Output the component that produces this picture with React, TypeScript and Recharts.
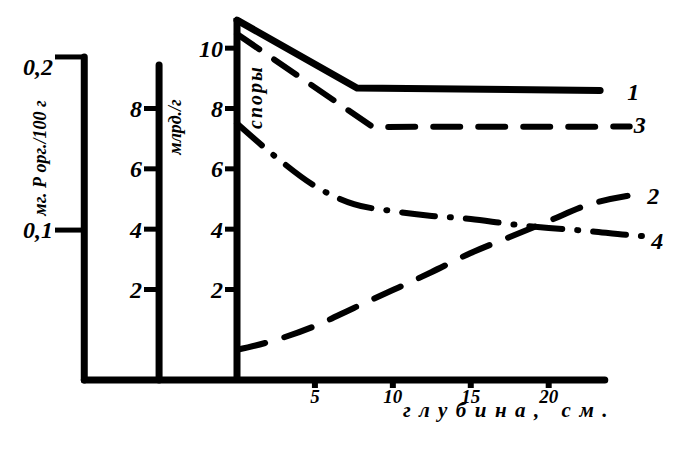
import React from "react"
import { LineChart, Line, XAxis, YAxis, ReferenceLine } from "recharts"

const INK = "#000"
const HAND = "'Liberation Serif', 'DejaVu Serif', serif"

// depth axis, cm
const DEPTH_TICKS = [5, 10, 15, 20]
// three left scales: spores, billions per g, mg P org. per 100 g
const SPORE_TICKS = [2, 4, 6, 8, 10]
const BILLION_TICKS = [2, 4, 6, 8]
const P_TICKS = [0.1, 0.2]

// curve 1 (solid)
const DEPTH_1 = [0, 7.7, 23.3]
const CURVE_1 = [10.93, 8.68, 8.6]

// curve 3 (long dashes)
const DEPTH_3 = [0, 8.7, 25.2]
const CURVE_3 = [10.47, 7.39, 7.4]

// curves 2 (dashes) and 4 (dash-dot)
const DEPTHS = [0, 2.5, 5, 7.5, 10, 12.5, 15, 17.5, 20, 22.5, 25, 26]
const CURVE_2 = [0, 0.33, 0.79, 1.39, 1.98, 2.58, 3.21, 3.74, 4.27, 4.8, 5.1, 5.17]
const CURVE_4 = [7.5, 6.39, 5.43, 4.83, 4.6, 4.44, 4.34, 4.17, 4.04, 3.94, 3.81, 3.77]

const rows = (depths: number[], values: number[]) => depths.map((d, i) => ({ d, v: values[i] }))

const handFont = { fontFamily: HAND, fontStyle: "italic", fontWeight: "bold", fill: INK } as const

function SideTitle(props: any) {
  const vb = props.viewBox || { x: 0, y: 0, width: 0, height: 0 }
  const x = vb.x + props.dx
  const y = vb.y + props.dy
  return (
    <text
      x={x}
      y={y}
      transform={`rotate(-90 ${x} ${y})`}
      textAnchor="middle"
      dominantBaseline="central"
      fontSize={props.size}
      letterSpacing={props.spacing || 0}
      {...handFont}
    >
      {props.text}
    </text>
  )
}

function DepthTitle(props: any) {
  const vb = props.viewBox || { x: 0, y: 0 }
  return (
    <text x={vb.x + 166} y={vb.y + 37} fontSize={21} letterSpacing={8.5} {...handFont}>
      глубина, см.
    </text>
  )
}

// the 0,2 figure sits a little under its tick in the drawing
function PTick(p: any) {
  const v = p.payload.value
  return (
    <text x={p.x} y={p.y + (v > 0.15 ? 10 : 0)} textAnchor="end" dominantBaseline="central" fontSize={24} {...handFont}>
      {v.toFixed(1).replace(".", ",")}
    </text>
  )
}

// curve number written after the last point
function endMark(text: string, last: number, dx: number, dy: number) {
  return (p: any) =>
    p.index === last ? (
      <text key={`end-${text}`} x={p.cx + dx} y={p.cy + dy} fontSize={24} dominantBaseline="central" {...handFont}>
        {text}
      </text>
    ) : (
      <g key={`pt-${text}-${p.index}`} />
    )
}

const frame = { stroke: INK, strokeWidth: 7, strokeLinecap: "round" as const }

export default function App() {
  return (
    <div style={{ position: "absolute", left: 0, top: 0, background: "#fff" }}>
      <LineChart width={694} height={453} margin={{ top: 18, right: 44, bottom: 43, left: 8 }}>
        <XAxis
          dataKey="d"
          type="number"
          domain={[0, 26.5]}
          ticks={DEPTH_TICKS}
          axisLine={false}
          tickLine={{ stroke: INK, strokeWidth: 6 }}
          tickSize={8}
          tick={{ fontSize: 19, ...handFont }}
          height={30}
          label={<DepthTitle />}
        />
        {/* ids sort innermost-first: a = spores, b = billions/g, c = mg P */}
        <YAxis
          yAxisId="a"
          type="number"
          domain={[-1, 11]}
          ticks={SPORE_TICKS}
          width={77}
          axisLine={{ stroke: INK, strokeWidth: 7 }}
          tickLine={{ stroke: INK, strokeWidth: 5 }}
          tickSize={12}
          tick={{ fontSize: 24, ...handFont }}
          label={<SideTitle text="споры" dx={95} dy={79} size={20} spacing={2} />}
        />
        <YAxis
          yAxisId="b"
          type="number"
          domain={[-1, 11]}
          allowDataOverflow
          ticks={BILLION_TICKS}
          width={77}
          axisLine={false}
          tickLine={{ stroke: INK, strokeWidth: 5 }}
          tickSize={16}
          tick={{ fontSize: 24, ...handFont }}
          label={<SideTitle text="млрд./г" dx={92} dy={109} size={18} />}
        />
        <YAxis
          yAxisId="c"
          type="number"
          domain={[0.0134, 0.2225]}
          allowDataOverflow
          ticks={P_TICKS}
          width={75}
          axisLine={false}
          tickLine={{ stroke: INK, strokeWidth: 5 }}
          tickSize={28}
          tick={<PTick />}
          label={<SideTitle text="мг. Р орг./100 г" dx={32} dy={140} size={18} />}
        />

        {/* hand-drawn axis frame */}
        <ReferenceLine yAxisId="a" ifOverflow="visible" segment={[{ x: -9.8, y: -1 }, { x: 23.6, y: -1 }]} {...frame} />
        <ReferenceLine yAxisId="a" ifOverflow="visible" segment={[{ x: -9.8, y: -1 }, { x: -9.8, y: 9.71 }]} {...frame} />
        <ReferenceLine yAxisId="a" ifOverflow="visible" segment={[{ x: -5, y: -1 }, { x: -5, y: 9.44 }]} {...frame} />

        <Line
          yAxisId="a"
          data={rows(DEPTH_1, CURVE_1)}
          dataKey="v"
          type="linear"
          stroke={INK}
          strokeWidth={7}
          strokeLinecap="round"
          dot={endMark("1", DEPTH_1.length - 1, 27, 2)}
          activeDot={false}
          isAnimationActive={false}
        />
        <Line
          yAxisId="a"
          data={rows(DEPTH_3, CURVE_3)}
          dataKey="v"
          type="linear"
          stroke={INK}
          strokeWidth={6}
          strokeDasharray="27 18"
          strokeLinecap="round"
          dot={endMark("3", DEPTH_3.length - 1, 4, -2)}
          activeDot={false}
          isAnimationActive={false}
        />
        <Line
          yAxisId="a"
          data={rows(DEPTHS, CURVE_2)}
          dataKey="v"
          type="monotone"
          stroke={INK}
          strokeWidth={6}
          strokeDasharray="29 20"
          strokeLinecap="round"
          dot={endMark("2", DEPTHS.length - 1, 5, 2)}
          activeDot={false}
          isAnimationActive={false}
        />
        <Line
          yAxisId="a"
          data={rows(DEPTHS, CURVE_4)}
          dataKey="v"
          type="monotone"
          stroke={INK}
          strokeWidth={6}
          strokeDasharray="33 15 1 15"
          strokeLinecap="round"
          dot={endMark("4", DEPTHS.length - 1, 9, 5)}
          activeDot={false}
          isAnimationActive={false}
        />
      </LineChart>
    </div>
  )
}
